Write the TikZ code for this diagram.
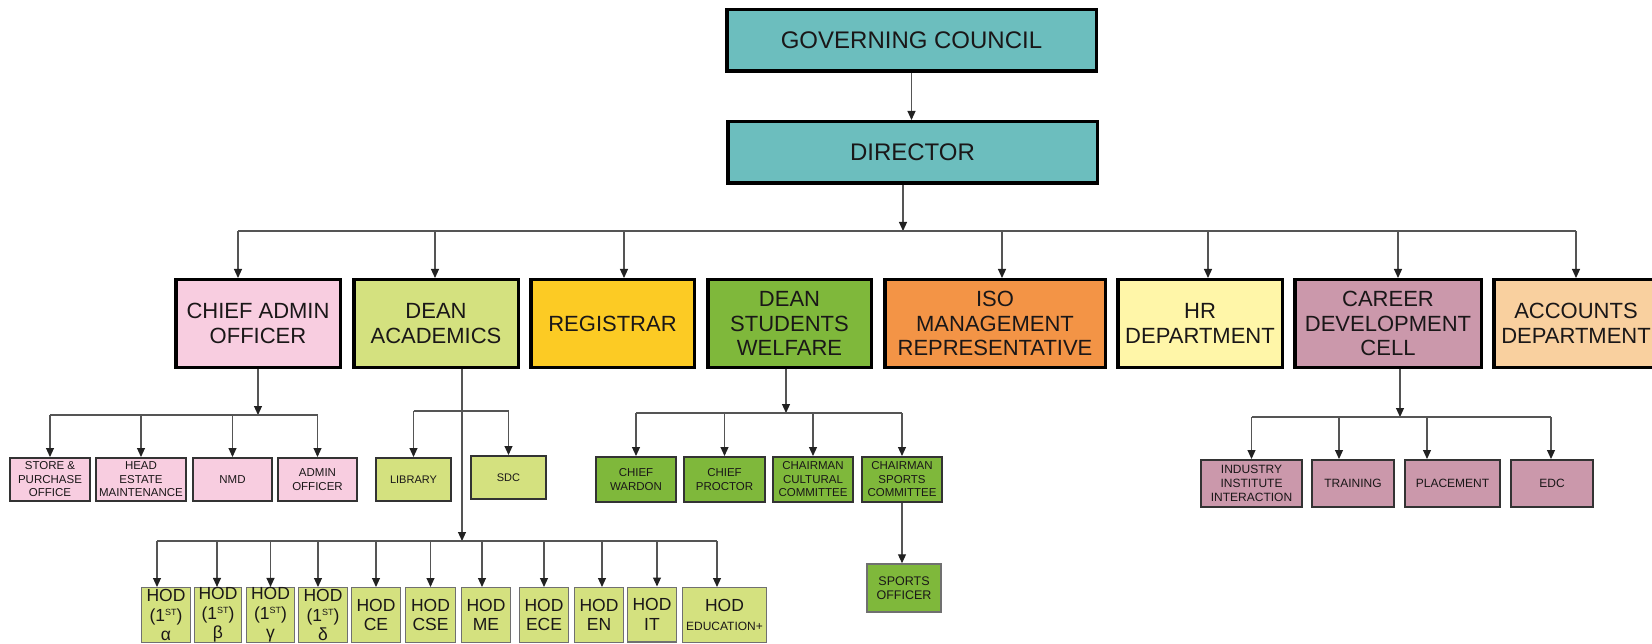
\documentclass[tikz,border=0pt]{standalone}
\usepackage{fontspec}
\setmainfont{Liberation Sans}
\usetikzlibrary{arrows.meta,calc}
\definecolor{teal1}{HTML}{6CBEBE}
\definecolor{pinkc}{HTML}{F8CDE0}
\definecolor{lgreen}{HTML}{D4E17F}
\definecolor{regy}{HTML}{FCCB24}
\definecolor{dswg}{HTML}{7FB83B}
\definecolor{isoc}{HTML}{F39446}
\definecolor{hrc}{HTML}{FFF6A8}
\definecolor{cdcc}{HTML}{CB98AB}
\definecolor{accc}{HTML}{F9D09F}
\definecolor{txt}{HTML}{1A1718}
\definecolor{linec}{HTML}{555555}
\definecolor{arrc}{HTML}{222222}
\definecolor{boxline}{HTML}{333333}
\definecolor{hodline}{HTML}{707070}
\newcommand{\firstst}{(1\raisebox{5.5pt}{\fontsize{9}{9}\selectfont ST})}
\begin{document}
\begin{tikzpicture}[x=1pt,y=-1pt,
  conn/.style={draw=linec, line width=1.1pt},
  arr/.style={conn, -{Triangle[length=9pt,width=8pt,color=arrc]}},
  topbox/.style={draw=black, line width=3.5pt, fill=teal1, minimum height=61.5pt, inner sep=0pt, text=txt, font=\fontsize{24}{26}\selectfont},
  lvtwo/.style={draw=black, line width=3.5pt, minimum height=87.5pt, inner sep=0pt, align=center, text=txt, font=\fontsize{22}{24.5}\selectfont},
  lvthree/.style={draw=boxline, line width=2pt, inner sep=0pt, align=center, text=txt, font=\fontsize{11.5}{13.5}\selectfont},
  hodbox/.style={draw=hodline, line width=1.3pt, fill=lgreen, minimum height=54.7pt, inner sep=0pt, align=center, text=txt, font=\fontsize{17.5}{19.5}\selectfont},
  thinbox/.style={draw=hodline, line width=1.5pt, inner sep=0pt, align=center, text=txt, font=\fontsize{12.5}{14.5}\selectfont}
]
\path[fill=white] (0,0) rectangle (1652,644);
\useasboundingbox (0,0) rectangle (1652,644);

% top
\node[topbox, minimum width=369.5pt] (gc) at (911.5,40.5) {GOVERNING COUNCIL};
\node[topbox, minimum width=369.5pt] (dir) at (912.5,152.5) {DIRECTOR};

% level 2
\node[lvtwo, fill=pinkc, minimum width=164.5pt] (cao) at (258,323.5) {CHIEF ADMIN\\OFFICER};
\node[lvtwo, fill=lgreen, minimum width=164.5pt] (dacad) at (436,323.5) {DEAN\\ACADEMICS};
\node[lvtwo, fill=regy, minimum width=163.5pt] (reg) at (612.5,323.5) {REGISTRAR};
\node[lvtwo, fill=dswg, minimum width=163.5pt] (dsw) at (789.5,323.5) {DEAN\\STUDENTS\\WELFARE};
\node[lvtwo, fill=isoc, minimum width=220.5pt] (iso) at (995,323.5) {ISO\\MANAGEMENT\\REPRESENTATIVE};
\node[lvtwo, fill=hrc, minimum width=164.5pt] (hr) at (1200,323.5) {HR\\DEPARTMENT};
\node[lvtwo, fill=cdcc, minimum width=186.5pt] (cdc) at (1388,323.5) {CAREER\\DEVELOPMENT\\CELL};
\node[lvtwo, fill=accc, minimum width=164.5pt] (acc) at (1576,323.5) {ACCOUNTS\\DEPARTMENT};

% level 3: chief admin
\node[lvthree, fill=pinkc, minimum width=80pt, minimum height=43pt] (store) at (50,479.5) {STORE \&\\PURCHASE\\OFFICE};
\node[lvthree, fill=pinkc, minimum width=90pt, minimum height=43pt] (head) at (141,479.5) {HEAD\\ESTATE\\MAINTENANCE};
\node[lvthree, fill=pinkc, minimum width=79pt, minimum height=43pt] (nmd) at (232.5,479.5) {NMD};
\node[lvthree, fill=pinkc, minimum width=79pt, minimum height=43pt] (adm) at (317.5,479.5) {ADMIN\\OFFICER};

% level 3: dean academics
\node[lvthree, fill=lgreen, minimum width=75pt, minimum height=43pt, font=\fontsize{11}{13}\selectfont] (lib) at (413.5,479.5) {LIBRARY};
\node[lvthree, fill=lgreen, minimum width=75pt, minimum height=43pt, font=\fontsize{11}{13}\selectfont] (sdc) at (508.5,477.5) {SDC};

% level 3: dean students welfare
\node[lvthree, fill=dswg, minimum width=80pt, minimum height=45pt] (wardon) at (636,479.5) {CHIEF\\WARDON};
\node[lvthree, fill=dswg, minimum width=81pt, minimum height=45pt] (proctor) at (724.5,479.5) {CHIEF\\PROCTOR};
\node[lvthree, fill=dswg, minimum width=80pt, minimum height=45pt] (cult) at (813,479.5) {CHAIRMAN\\CULTURAL\\COMMITTEE};
\node[lvthree, fill=dswg, minimum width=80pt, minimum height=45pt] (sports) at (902,479.5) {CHAIRMAN\\SPORTS\\COMMITTEE};
\node[thinbox, fill=dswg, minimum width=74pt, minimum height=48pt] (so) at (904,588) {SPORTS\\OFFICER};

% level 3: career development cell
\node[lvthree, fill=cdcc, minimum width=101pt, minimum height=47pt, font=\fontsize{12}{14}\selectfont] (ind) at (1251.5,483.5) {INDUSTRY\\INSTITUTE\\INTERACTION};
\node[lvthree, fill=cdcc, minimum width=82pt, minimum height=47pt, font=\fontsize{12}{14}\selectfont] (trn) at (1353,483.5) {TRAINING};
\node[lvthree, fill=cdcc, minimum width=95pt, minimum height=47pt, font=\fontsize{12}{14}\selectfont] (plc) at (1452.5,483.5) {PLACEMENT};
\node[lvthree, fill=cdcc, minimum width=82pt, minimum height=47pt, font=\fontsize{12}{14}\selectfont] (edc) at (1552,483.5) {EDC};

% HOD row
\node[hodbox, minimum width=48.7pt] (hA) at (166,615) {HOD\\\firstst\\α};
\node[hodbox, minimum width=46.7pt] (hB) at (218,615) {HOD\\\firstst\\β};
\node[hodbox, minimum width=47.7pt] (hG) at (270.5,615) {HOD\\\firstst\\γ};
\node[hodbox, minimum width=48.7pt] (hD) at (323,615) {HOD\\\firstst\\δ};
\node[hodbox, minimum width=48.7pt] (hCE) at (376,615) {HOD\\CE};
\node[hodbox, minimum width=49.7pt] (hCSE) at (430.5,615) {HOD\\CSE};
\node[hodbox, minimum width=48.7pt] (hME) at (486,615) {HOD\\ME};
\node[hodbox, minimum width=48.7pt] (hECE) at (544,615) {HOD\\ECE};
\node[hodbox, minimum width=48.7pt] (hEN) at (599,615) {HOD\\EN};
\node[hodbox, minimum width=48.7pt] (hIT) at (652,614.5) {HOD\\IT};
\node[hodbox, minimum width=83.7pt] (hEDU) at (724.5,615) {HOD\\{\fontsize{12}{14}\selectfont EDUCATION+}};

% bus levels
\coordinate (Ltop) at (0,231);
\coordinate (Lcao) at (0,415);
\coordinate (Llib) at (0,411);
\coordinate (Lhod) at (0,541);
\coordinate (Ldsw) at (0,413);
\coordinate (Lcdc) at (0,417);

% top connectors
\draw[arr] (gc.south) -- (gc.south |- dir.north);
\coordinate (dirOut) at ([xshift=-9.5pt]dir.south);
\draw[arr] (dirOut) -- (dirOut |- Ltop);
\foreach \n/\s in {cao/-20,dacad/-1,reg/11.5,iso/7,hr/8,cdc/10,acc/0}{
  \coordinate (in\n) at ([xshift=\s pt]\n.north);
  \draw[arr] (in\n |- Ltop) -- (in\n);
}
\draw[conn] (incao |- Ltop) -- (inacc |- Ltop);

% chief admin subtree
\draw[arr] (cao.south) -- (cao.south |- Lcao);
\draw[conn] (store.north |- Lcao) -- (adm.north |- Lcao);
\foreach \n in {store,head,nmd,adm}{
  \draw[arr] (\n.north |- Lcao) -- (\n.north);
}

% dean academics subtree
\coordinate (daOut) at ([xshift=26pt]dacad.south);
\draw[arr] (daOut) -- (daOut |- Lhod);
\draw[conn] (lib.north |- Llib) -- (sdc.north |- Llib);
\foreach \n in {lib,sdc}{
  \draw[arr] (\n.north |- Llib) -- (\n.north);
}
\foreach \n/\s in {hA/-9,hB/-1,hG/0,hD/-5,hCE/0,hCSE/0,hME/-4,hECE/0,hEN/3,hIT/5,hEDU/-7.5}{
  \coordinate (in\n) at ([xshift=\s pt]\n.north);
  \draw[arr] (in\n |- Lhod) -- (in\n);
}
\draw[conn] (inhA |- Lhod) -- (inhEDU |- Lhod);

% dean students welfare subtree
\coordinate (dswOut) at ([xshift=-3.5pt]dsw.south);
\draw[arr] (dswOut) -- (dswOut |- Ldsw);
\draw[conn] (wardon.north |- Ldsw) -- (sports.north |- Ldsw);
\foreach \n in {wardon,proctor,cult,sports}{
  \draw[arr] (\n.north |- Ldsw) -- (\n.north);
}
\draw[arr] (sports.south) -- (sports.south |- so.north);

% career development subtree
\coordinate (cdcOut) at ([xshift=12pt]cdc.south);
\draw[arr] (cdcOut) -- (cdcOut |- Lcdc);
\foreach \n/\s in {ind/0,trn/-14,plc/-25.5,edc/-1}{
  \coordinate (in\n) at ([xshift=\s pt]\n.north);
  \draw[arr] (in\n |- Lcdc) -- (in\n);
}
\draw[conn] (inind |- Lcdc) -- (inedc |- Lcdc);
\end{tikzpicture}
\end{document}
